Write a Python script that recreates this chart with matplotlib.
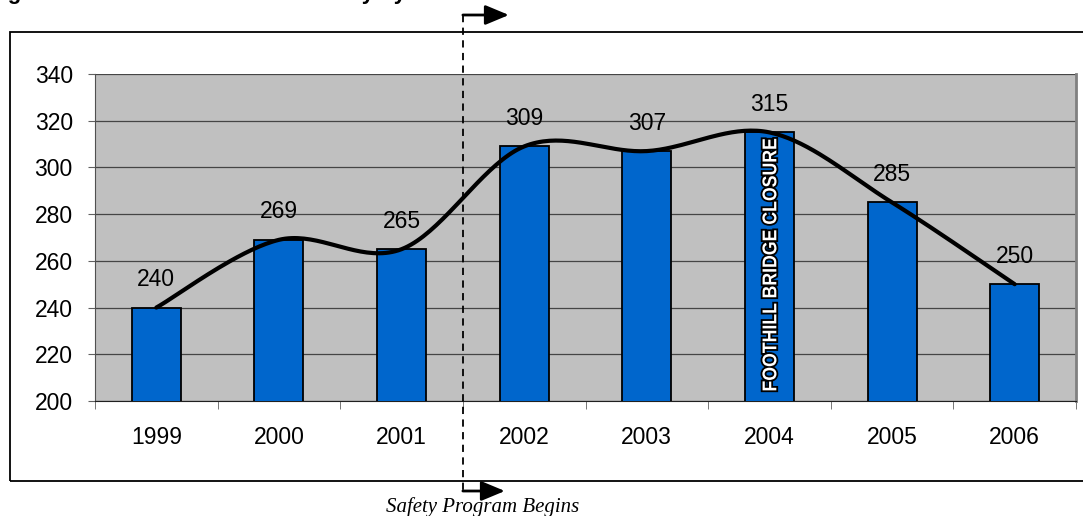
import numpy as np
import matplotlib
matplotlib.use("Agg")
import matplotlib.pyplot as plt
from matplotlib.patches import Rectangle, PathPatch
from matplotlib.textpath import TextPath
from matplotlib.font_manager import FontProperties
import matplotlib.patheffects as pe
import matplotlib.transforms as mtransforms

years = ['1999', '2000', '2001', '2002', '2003', '2004', '2005', '2006']
injuries = [240, 269, 265, 309, 307, 315, 285, 250]
y_ticks = [200, 220, 240, 260, 280, 300, 320, 340]
bar_note = 'FOOTHILL BRIDGE CLOSURE'
note_year = '2004'
program_label = 'Safety Program Begins'
program_start = '2002'
title = 'Figure 1: Total Student Traffic Safety by Year'

plt.rcParams['font.family'] = ['Liberation Sans', 'DejaVu Sans']

W, H = 1083, 516
fig = plt.figure(figsize=(W / 100, H / 100), dpi=100)
ax = fig.add_axes([95 / W, 115 / H, 981 / W, 327 / H])

x = np.arange(len(years))
vals = np.array(injuries, dtype=float)

ax.set_facecolor('#C0C0C0')
ax.bar(x, vals, width=0.4, color='#0066CC', edgecolor='black', linewidth=1.3, zorder=3)

# Excel-style smoothed line (Bezier through points)
pts = np.column_stack([x, vals])
curve = []
n = len(pts)
for i in range(n - 1):
    p0 = pts[i - 1] if i > 0 else pts[i]
    p1 = pts[i]
    p2 = pts[i + 1]
    p3 = pts[i + 2] if i + 2 < n else pts[i + 1]
    c1 = p1 + (p2 - p0) / 6.0
    c2 = p2 - (p3 - p1) / 6.0
    t = np.linspace(0, 1, 40)[:, None]
    seg = ((1 - t) ** 3) * p1 + 3 * ((1 - t) ** 2) * t * c1 + 3 * (1 - t) * t ** 2 * c2 + t ** 3 * p2
    curve.append(seg if i == 0 else seg[1:])
curve = np.vstack(curve)
ax.plot(curve[:, 0], curve[:, 1], color='black', linewidth=3.0, zorder=4, solid_capstyle='round')

for xi, v in zip(x, injuries):
    ax.text(xi, v + 12, str(v), ha='center', va='center', fontsize=16.5, zorder=5)

ax.set_xlim(-0.5, len(years) - 0.5)
ax.set_ylim(200, 340)
ax.set_yticks(y_ticks)
ax.set_yticklabels([str(t) for t in y_ticks], fontsize=16.5)
ax.set_xticks(x)
ax.set_xticklabels(years, fontsize=16.5)
ax.set_xticks(np.arange(-0.5, len(years), 1.0), minor=True)
ax.tick_params(axis='x', which='major', length=0, pad=18)
ax.tick_params(axis='x', which='minor', length=6, direction='out', color='#606060')
ax.tick_params(axis='y', length=5, direction='out', pad=11, color='#606060')

ax.yaxis.grid(True, color='#454545', linewidth=0.9)
ax.set_axisbelow(True)
ax.spines['top'].set_visible(False)
ax.spines['right'].set_color('#808080')
ax.spines['right'].set_linewidth(2.0)
ax.spines['left'].set_color('#505050')
ax.spines['bottom'].set_color('#202020')

# bar annotation (condensed bold, white with black outline)
ni = years.index(note_year)
fp = FontProperties(family='Liberation Sans', weight='bold')
tp = TextPath((0, 0), bar_note, size=20, prop=fp)
bb = tp.get_extents()
cx, cy = (bb.x0 + bb.x1) / 2, (bb.y0 + bb.y1) / 2
px, py = ax.transData.transform((ni, 258.4))
trp = mtransforms.Affine2D().translate(-cx, -cy).scale(0.885, 1.0).rotate_deg(90).translate(px, py)
patch = PathPatch(tp, transform=trp, facecolor='white', edgecolor='none', zorder=6,
                  path_effects=[pe.withStroke(linewidth=2.6, foreground='black')])
fig.patches.append(patch)

# outer frame
fig.patches.append(Rectangle((10 / W, 35 / H), 1.2, 449 / H, transform=fig.transFigure,
                             fill=False, edgecolor='black', linewidth=1.3))

# safety program line
ps = years.index(program_start) - 0.5
tr = mtransforms.blended_transform_factory(ax.transData, fig.transFigure)
ytop = 1 - 15 / H
ybot = 1 - 491 / H
ax.plot([ps, ps], [ytop, ybot], transform=tr, color='black', linestyle=(0, (4, 3)),
        linewidth=1.3, clip_on=False, zorder=7)
for yy, L in [(ytop, 46), (ybot, 42)]:
    ax.annotate('', xy=(ps + L / 122.6, yy), xytext=(ps, yy), xycoords=tr, textcoords=tr,
                arrowprops=dict(arrowstyle='-|>,head_length=1.2,head_width=0.5', color='black',
                                lw=2.0, shrinkA=0, shrinkB=0, mutation_scale=12),
                annotation_clip=False)
fig.text(483 / W, 9 / H, program_label, ha='center', va='center', fontsize=15,
         style='italic', family=['Liberation Serif', 'DejaVu Serif'])

fig.text(-12 / W, 1 + 1 / H, title, ha='left', va='baseline', fontsize=16, fontweight='bold')

fig.savefig('out.png', dpi=100)
